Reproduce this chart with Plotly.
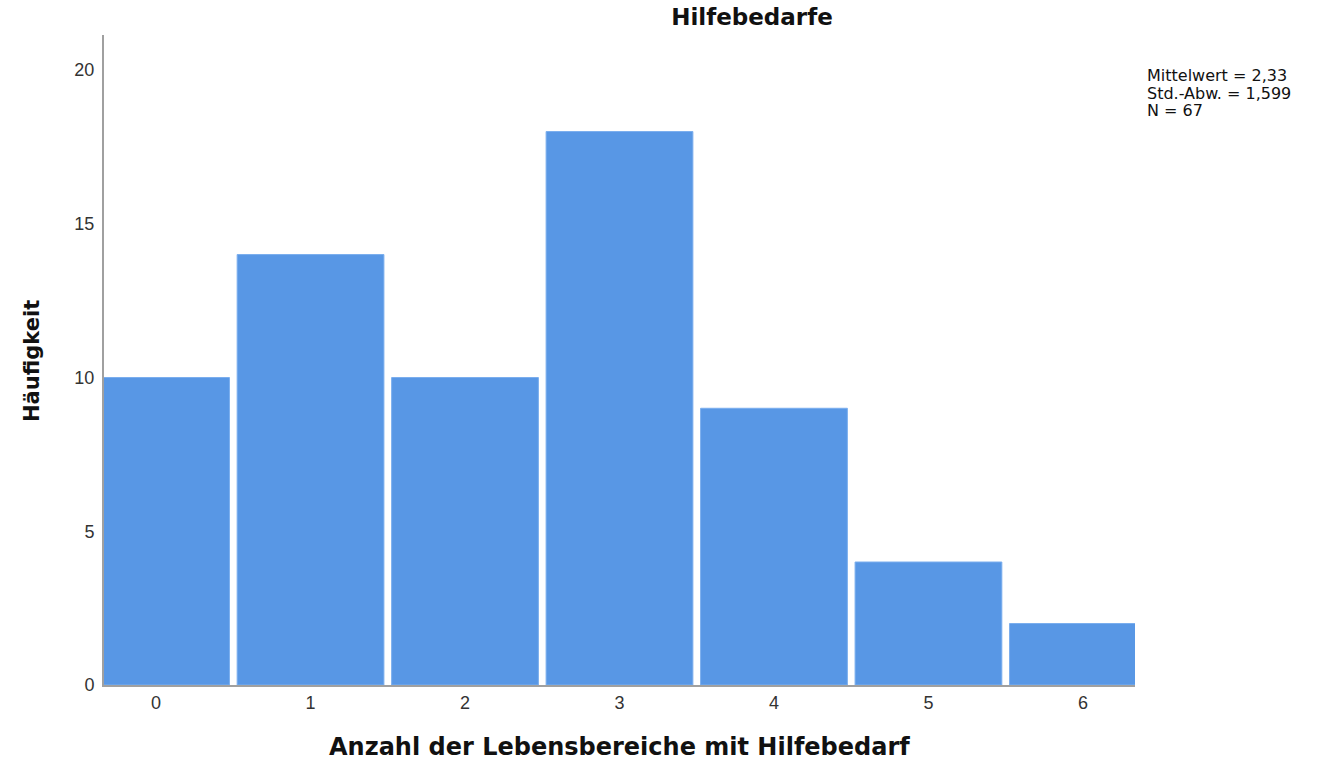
import plotly.graph_objects as go

categories = [0, 1, 2, 3, 4, 5, 6]
counts = [10, 14, 10, 18, 9, 4, 2]
y_ticks = [0, 5, 10, 15, 20]
stats_lines = ["Mittelwert = 2,33", "Std.-Abw. = 1,599", "N = 67"]

W, H = 1335, 762
L, R, T, B = 104, 200, 35, 77
plot_h = H - T - B
plot_w = W - L - R

fig = go.Figure()
fig.add_trace(go.Bar(
    x=categories, y=counts, width=0.95,
    marker=dict(color="#5897E5", line=dict(width=1, color="#7aaeee")),
    hoverinfo="x+y",
))

fig.update_layout(
    width=W, height=H,
    margin=dict(l=L, r=R, t=T, b=B, autoexpand=False),
    paper_bgcolor="white", plot_bgcolor="white",
    font=dict(family="Liberation Sans, Arial, sans-serif", color="#333333", size=18),
    showlegend=False,
    title=dict(text="<b>Hilfebedarfe</b>", x=752 / W, xanchor="center",
               y=1 - 17 / H, yanchor="middle",
               font=dict(family="DejaVu Sans", size=23, color="#111111")),
    xaxis=dict(
        range=[-0.337, 6.337], tickvals=categories, ticktext=[str(c) for c in categories],
        showgrid=False, zeroline=False, showline=True, linecolor="#a0a0a0", linewidth=2,
        ticks="", ticklabelstandoff=0, tickfont=dict(size=18, color="#333333"),
        automargin=False,
    ),
    yaxis=dict(
        range=[0, 21.14], tickvals=y_ticks,
        showgrid=False, zeroline=False, showline=True, linecolor="#a0a0a0", linewidth=2,
        ticks="", ticklabelstandoff=4, tickfont=dict(size=18, color="#333333"),
        automargin=False,
    ),
)

# axis titles
fig.add_annotation(
    text="<b>Anzahl der Lebensbereiche mit Hilfebedarf</b>", xref="paper", yref="paper",
    x=0.5, y=(T + plot_h - 747) / plot_h, xanchor="center", yanchor="middle",
    showarrow=False, font=dict(family="DejaVu Sans", size=24, color="#111111"),
)
fig.add_annotation(
    text="<b>Häufigkeit</b>", xref="paper", yref="paper", textangle=-90,
    x=(32 - L) / plot_w, y=(T + plot_h - 361) / plot_h, xanchor="center", yanchor="middle",
    showarrow=False, font=dict(family="DejaVu Sans", size=21, color="#111111"),
)

line_centers = [76.0, 93.5, 111.0]
for txt, yc in zip(stats_lines, line_centers):
    fig.add_annotation(
        text=txt, xref="paper", yref="paper",
        x=(1145 - L) / plot_w, y=1 + (T - yc) / plot_h,
        xanchor="left", yanchor="middle", align="left", showarrow=False,
        font=dict(family="DejaVu Sans", size=16, color="#111111"),
    )

fig.write_html("out.html", config={"displayModeBar": False},
               post_script="document.body.style.margin='0';document.body.style.overflow='hidden';")
